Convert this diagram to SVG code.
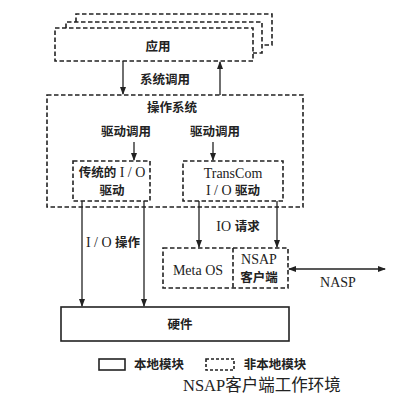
<svg xmlns="http://www.w3.org/2000/svg" width="400" height="400" viewBox="0 0 400 400">
<style>
.d{fill:none;stroke:#222;stroke-width:1.6;stroke-dasharray:4.5,2.5}
.s{fill:none;stroke:#222;stroke-width:1.6}
.t{font-family:"Liberation Serif","Noto Sans CJK SC",serif;font-size:12.5px;font-weight:bold;fill:#222;text-anchor:middle}
.n{font-weight:normal;font-size:14px}
.l{stroke:#222;stroke-width:1.3;fill:none}
.cap{font-family:"Liberation Serif","Noto Sans CJK SC",serif;font-size:16.5px;fill:#222}
</style>
<defs>
<marker id="a" markerWidth="8" markerHeight="8" refX="7" refY="4" orient="auto" markerUnits="userSpaceOnUse">
<path d="M0,1 L8,4 L0,7 Z" fill="#222"/>
</marker>
<marker id="b" markerWidth="8" markerHeight="8" refX="1" refY="4" orient="auto" markerUnits="userSpaceOnUse">
<path d="M8,1 L0,4 L8,7 Z" fill="#222"/>
</marker>
</defs>
<rect width="400" height="400" fill="#fff"/>
<g id="app">
<path class="d" d="M76,22 V14 H272 V45 H262"/>
<path class="d" d="M66,28 V22 H262 V53 H253"/>
<rect class="d" x="55" y="28" width="198" height="33"/>
<text class="t" x="158" y="51">应用</text>
</g>
<g id="os">
<rect class="d" x="47" y="95" width="256" height="112"/>
<text class="t" x="172" y="112">操作系统</text>
<text class="t" x="126" y="136">驱动调用</text>
<text class="t" x="215" y="136">驱动调用</text>
</g>
<g id="legacy">
<rect class="d" x="73" y="161" width="77" height="40"/>
<text class="t" x="112" y="177">传统的<tspan class="n" font-size="13"> I / O</tspan></text>
<text class="t" x="112" y="195">驱动</text>
</g>
<g id="transcom">
<rect class="d" x="183" y="161" width="100" height="40"/>
<text class="t n" x="233" y="178">TransCom</text>
<text class="t" x="233" y="195"><tspan class="n">I / O </tspan>驱动</text>
</g>
<g id="metaos">
<rect class="d" x="163" y="248" width="125" height="40"/>
<line class="d" x1="233" y1="248" x2="233" y2="288"/>
<text class="t n" x="198" y="275">Meta OS</text>
<text class="t n" x="259" y="264">NSAP</text>
<text class="t" x="259" y="282">客户端</text>
</g>
<g id="hardware">
<rect class="s" x="61" y="307" width="228" height="34"/>
<text class="t" x="180" y="329">硬件</text>
</g>
<g id="connectors">
<line class="l" x1="123" y1="61" x2="123" y2="94" marker-end="url(#a)"/>
<line class="l" x1="220" y1="95" x2="220" y2="62" marker-end="url(#a)"/>
<text class="t" x="165" y="84">系统调用</text>
<line class="l" x1="134" y1="142" x2="134" y2="160" marker-end="url(#a)"/>
<line class="l" x1="213" y1="142" x2="213" y2="160" marker-end="url(#a)"/>
<line class="l" x1="82" y1="201" x2="82" y2="306" marker-end="url(#a)"/>
<line class="l" x1="144" y1="201" x2="144" y2="306" marker-end="url(#a)"/>
<text class="t" x="113" y="247"><tspan class="n">I / O </tspan>操作</text>
<line class="l" x1="199" y1="201" x2="199" y2="247" marker-end="url(#a)"/>
<line class="l" x1="277" y1="201" x2="277" y2="247" marker-end="url(#a)"/>
<text class="t" x="238" y="231"><tspan class="n">IO </tspan>请求</text>
<line class="l" x1="289" y1="269" x2="385" y2="269" marker-start="url(#b)" marker-end="url(#a)"/>
<text class="t n" x="338" y="287">NASP</text>
</g>
<g id="legend">
<rect class="s" x="99" y="359" width="26" height="11"/>
<text class="t" x="159" y="369">本地模块</text>
<rect class="d" x="206" y="359" width="28" height="11" style="stroke-dasharray:3,2"/>
<text class="t" x="275" y="369">非本地模块</text>
<text class="cap" x="183" y="391">NSAP客户端工作环境</text>
</g>
</svg>
